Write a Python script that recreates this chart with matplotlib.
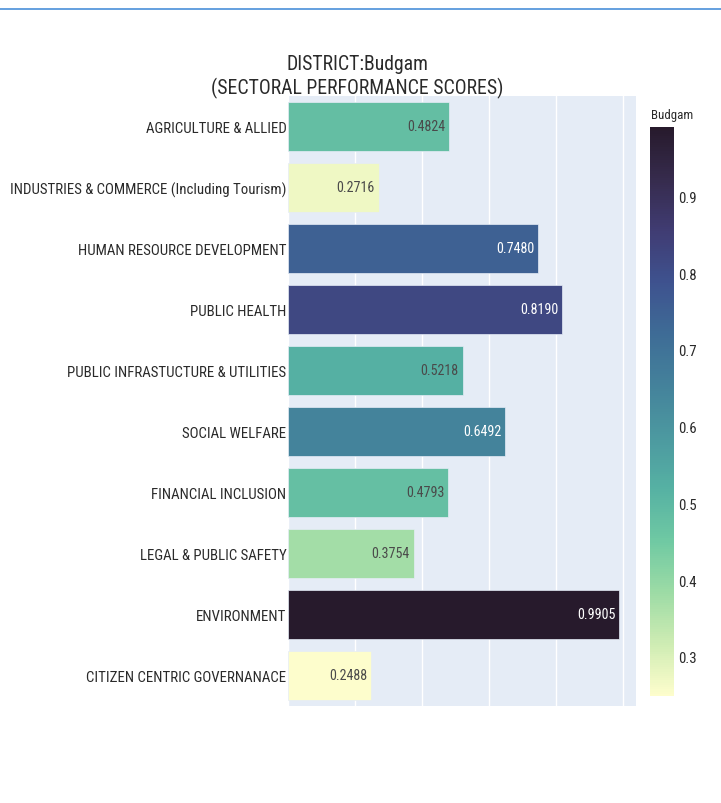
import matplotlib
matplotlib.use("Agg")
import matplotlib.pyplot as plt
from matplotlib.colors import LinearSegmentedColormap, Normalize
from matplotlib import font_manager
import matplotlib.cm as cm

categories = [
    "AGRICULTURE & ALLIED",
    "INDUSTRIES & COMMERCE (Including Tourism)",
    "HUMAN RESOURCE DEVELOPMENT",
    "PUBLIC HEALTH",
    "PUBLIC INFRASTUCTURE & UTILITIES",
    "SOCIAL WELFARE",
    "FINANCIAL INCLUSION",
    "LEGAL & PUBLIC SAFETY",
    "ENVIRONMENT",
    "CITIZEN CENTRIC GOVERNANACE",
]
scores = [0.4824, 0.2716, 0.7480, 0.8190, 0.5218, 0.6492, 0.4793, 0.3754, 0.9905, 0.2488]
cbar_ticks = [0.3, 0.4, 0.5, 0.6, 0.7, 0.8, 0.9]
title_lines = ["DISTRICT:Budgam", "(SECTORAL PERFORMANCE SCORES)"]
cbar_title = "Budgam"

deep = ['#fdfdcc', '#ceecb3', '#9cdba5', '#6fc9a3', '#56b1a3', '#4c99a0',
        '#44829b', '#3e6c96', '#3e528f', '#403c73', '#362b4d', '#271a2c']
cmap = LinearSegmentedColormap.from_list("deep", deep)

names = {f.name for f in font_manager.fontManager.ttflist}
fam = "Liberation Sans"
for cand in ["Arial Narrow", "Liberation Sans Narrow", "Roboto Condensed", "Archivo Narrow",
             "PT Sans Narrow", "Asap Condensed"]:
    if cand in names:
        fam = cand
        break
plt.rcParams['font.family'] = [fam, 'DejaVu Sans']

W, H = 721, 804
fig = plt.figure(figsize=(W / 100, H / 100), dpi=100)
renderer = fig.canvas.get_renderer()

def fit_size(s, target_px, base=10.0):
    t = fig.text(0, 0, s, fontsize=base)
    w = t.get_window_extent(renderer).width
    t.remove()
    return base * target_px / w

lab_fs = fit_size(categories[1], 277)
val_fs = fit_size("0.4824", 38)
tit_fs = fit_size(title_lines[1], 293)
cb_fs = fit_size("0.9", 18.5)
cbt_fs = fit_size(cbar_title, 42)

def rect(l, t, r, b):
    return [l / W, 1 - b / H, (r - l) / W, (b - t) / H]

ax = fig.add_axes(rect(288, 97, 636, 707))
ax.set_facecolor('#E5ECF6')
for s in ax.spines.values():
    s.set_visible(False)

vmin, vmax = min(scores), max(scores)
norm = Normalize(vmin=vmin, vmax=vmax)
colors = [cmap(norm(v)) for v in scores]
y = list(range(len(categories)))
ax.barh(y, scores, height=0.8, color=colors, edgecolor='#E5ECF6', linewidth=0.5, zorder=2)
ax.set_ylim(len(categories) - 0.5, -0.5)
ax.set_xlim(0, 1.04)
ax.set_xticks([0, 0.2, 0.4, 0.6, 0.8, 1.0])
ax.set_xticklabels([])
ax.grid(axis='x', color='white', linewidth=1, zorder=1)
ax.tick_params(axis='both', length=0)
ax.set_yticks(y)
ax.set_yticklabels(categories, fontsize=lab_fs, color='#2a2a2a')
ax.tick_params(axis='y', pad=1)

for yi, v in zip(y, scores):
    tc = 'white' if norm(v) > 0.45 else '#4a4a4a'
    ax.text(v - 0.012, yi, f"{v:.4f}", ha='right', va='center', fontsize=val_fs,
            color=tc, zorder=3)

fig.text(357 / W, 1 - 64 / H, title_lines[0], ha='center', va='center', fontsize=tit_fs, color='#2a2a2a')
fig.text(357 / W, 1 - 88 / H, title_lines[1], ha='center', va='center', fontsize=tit_fs, color='#2a2a2a')

cax = fig.add_axes(rect(650, 128, 674, 697))
sm = cm.ScalarMappable(norm=norm, cmap=cmap)
cb = fig.colorbar(sm, cax=cax)
cb.outline.set_visible(False)
cb.set_ticks(cbar_ticks)
cb.ax.set_yticklabels([f"{t:.1f}" for t in cbar_ticks], fontsize=cb_fs, color='#2a2a2a')
cb.ax.tick_params(length=0, pad=3)
fig.text(651 / W, 1 - 116 / H, cbar_title, ha='left', va='center', fontsize=cbt_fs, color='#2a2a2a')

fig.add_artist(plt.Line2D([0, 1], [1 - 10 / H, 1 - 10 / H], color='#4a90d9', linewidth=1.2))

fig.savefig("out.png", dpi=100)
